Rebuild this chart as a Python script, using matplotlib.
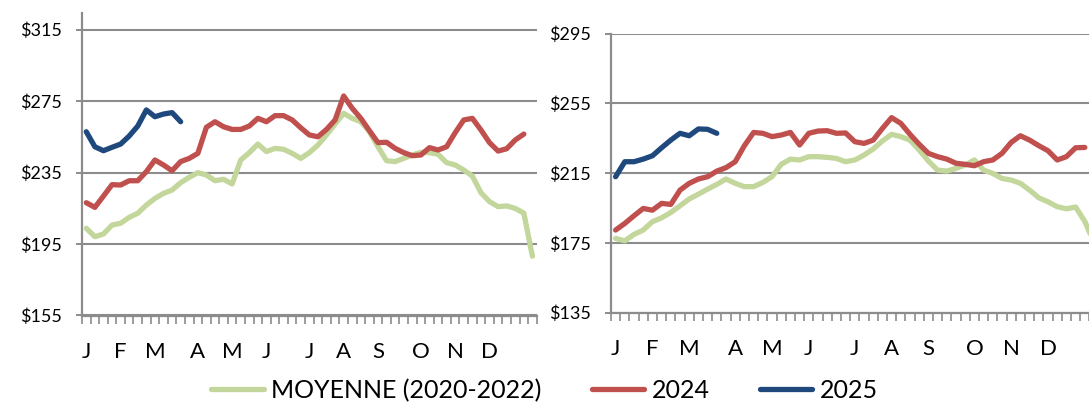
import numpy as np
import matplotlib
matplotlib.use("Agg")
import matplotlib.pyplot as plt

plt.rcParams["font.family"] = ["Lato", "DejaVu Sans"]

MONTHS = ["J", "F", "M", "A", "M", "J", "J", "A", "S", "O", "N", "D"]
MONTH_WEEK = [0, 4, 8, 13, 17, 21, 26, 30, 34, 39, 43, 47]
N_WEEKS = 53

# panneau gauche
left_avg = [203.8, 199.1, 200.6, 205.6, 206.6, 209.9, 212.2, 216.8, 220.5, 223.3,
            225.2, 229.3, 232.3, 234.9, 233.6, 230.4, 231.2, 228.6, 242.0, 246.1,
            250.9, 246.7, 248.5, 248.0, 245.7, 242.9, 246.1, 250.4, 256.0, 262.1,
            268.1, 265.3, 263.4, 257.8, 249.4, 241.6, 241.1, 242.9, 244.8, 246.3,
            246.1, 245.2, 240.5, 239.2, 236.4, 233.0, 223.7, 218.7, 215.9, 216.3,
            214.9, 212.3, 188.2]
left_2024 = [218.1, 215.5, 221.8, 228.2, 228.0, 230.4, 230.4, 235.5, 242.0, 239.2,
             236.0, 241.1, 242.9, 245.7, 260.3, 263.4, 260.6, 259.1, 259.1, 261.0,
             265.3, 263.4, 266.8, 266.8, 264.4, 260.0, 256.0, 255.0, 259.1, 264.4,
             277.8, 270.9, 265.3, 258.4, 251.7, 251.9, 248.5, 246.1, 244.4, 244.8,
             248.9, 247.6, 249.4, 257.3, 264.4, 265.3, 258.8, 251.7, 247.0, 248.3,
             253.2, 256.5]
left_2025 = [257.8, 249.4, 247.2, 249.1, 250.9, 255.4, 261.0, 270.0, 266.2, 267.7,
             268.5, 263.4]

# panneau droit
right_avg = [177.5, 176.1, 179.8, 182.3, 187.1, 189.3, 192.4, 196.2, 200.1, 202.9,
             205.8, 208.5, 211.6, 209.1, 207.2, 207.2, 209.6, 212.9, 220.0, 223.0,
             222.5, 224.4, 224.4, 224.0, 223.4, 221.5, 222.5, 225.3, 228.8, 233.4,
             237.2, 235.9, 233.9, 228.2, 221.9, 216.7, 216.1, 217.7, 219.6, 222.5,
             216.7, 214.8, 211.9, 211.0, 209.1, 205.2, 200.8, 198.5, 195.7, 194.5,
             195.5, 187.3, 175.0]
right_2024 = [182.3, 186.1, 190.5, 194.7, 193.7, 197.6, 197.0, 205.2, 209.1, 211.6,
              212.9, 216.1, 218.1, 221.5, 230.7, 238.3, 237.8, 235.9, 236.8, 238.3,
              231.1, 237.8, 239.1, 239.3, 237.8, 238.0, 233.0, 232.0, 233.9, 240.6,
              246.8, 243.5, 237.2, 231.5, 226.3, 224.4, 223.0, 220.6, 220.0, 219.2,
              221.5, 222.5, 226.3, 232.6, 236.4, 233.9, 230.7, 227.8, 222.5, 224.4,
              229.5, 229.7]
right_2025 = [212.9, 221.5, 221.5, 223.0, 224.9, 229.5, 233.9, 237.8, 236.4, 240.3,
              240.1, 237.8]

left_yticks = [155, 195, 235, 275, 315]
right_yticks = [135, 175, 215, 255, 295]

SERIES = ["MOYENNE (2020-2022)", "2024", "2025"]
COLORS = ["#C3D69B", "#C0504D", "#1F497D"]
GRID = "#8C8C8C"

W, H = 1089, 405
fig = plt.figure(figsize=(W / 100, H / 100), dpi=100)

ax1 = fig.add_axes([82 / W, (H - 315.5) / H, 454.7 / W, 302.8 / H])
ax2 = fig.add_axes([611 / W, (H - 312.5) / H, 487.6 / W, 278.9 / H])


def draw(ax, avg, y24, y25, yticks, ymax):
    for vals, col in zip([avg, y24, y25], COLORS):
        ax.plot(np.arange(len(vals)), vals, color=col, lw=3.8,
                solid_capstyle="round", solid_joinstyle="round", zorder=3)
    ax.set_xlim(-0.5, N_WEEKS - 0.5)
    ax.set_ylim(yticks[0], ymax)
    ax.set_yticks(yticks)
    ax.set_yticklabels([f"${v}" for v in yticks], fontsize=13)
    ax.set_xticks(np.arange(N_WEEKS + 1) - 0.5)
    ax.set_xticklabels([])
    ax.set_xticks(MONTH_WEEK, minor=True)
    ax.set_xticklabels(MONTHS, minor=True, fontsize=16)
    ax.tick_params(axis="x", which="major", length=5.5, width=1.2, color=GRID,
                   direction="out")
    ax.tick_params(axis="x", which="minor", length=0, pad=19)
    ax.tick_params(axis="y", length=4.5, width=1.4, color=GRID, pad=10)
    ax.grid(axis="y", color=GRID, lw=1.5)
    ax.set_axisbelow(True)
    for s in ["top", "right"]:
        ax.spines[s].set_visible(False)
    for s in ["left", "bottom"]:
        ax.spines[s].set_color(GRID)
        ax.spines[s].set_linewidth(1.6)


draw(ax1, left_avg, left_2024, left_2025, left_yticks, 324.4)
draw(ax2, right_avg, right_2024, right_2025, right_yticks, 295)

handles = [plt.Line2D([], [], color=c, lw=3.8, solid_capstyle="round") for c in COLORS]
fig.legend(handles, SERIES, loc="center", bbox_to_anchor=(0.5, 0.036), ncol=3,
           frameon=False, fontsize=18, handlelength=2.1, handletextpad=0.3,
           columnspacing=2.0, borderpad=0)

fig.savefig("out.png", dpi=100)
